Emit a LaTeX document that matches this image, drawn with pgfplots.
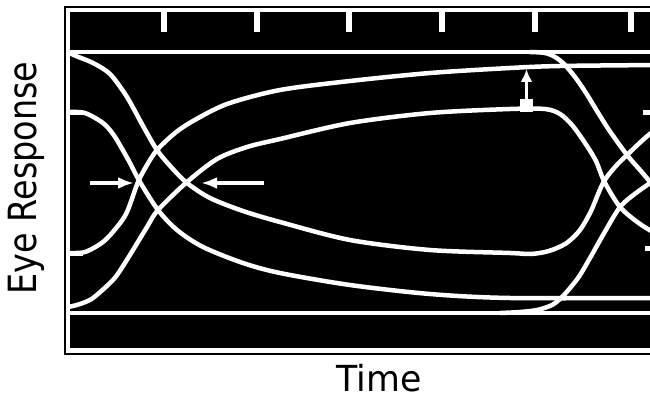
\documentclass[border=0pt]{standalone}
\usepackage{fontspec}
\setmainfont{DejaVu Sans}
\usepackage{graphicx}
\usepackage{pgfplots}
\pgfplotsset{compat=1.18}
\usetikzlibrary{arrows.meta}
\begin{document}
\begin{tikzpicture}[x=1bp,y=1bp]
\begin{axis}[
  at={(68.5bp,51bp)}, anchor=south west,
  scale only axis, width=591.5bp, height=339.5bp,
  xmin=68.5, xmax=660, ymin=-350, ymax=-10.5,
  axis background/.style={fill=black},
  axis line style={white, line width=3.5bp},
  xtick={164,257,349,442,535,631},
  xticklabels={{},{},{},{},{},{}},
  xtick pos=right,
  ytick=\empty,
  tick align=inside,
  major tick length=22bp,
  tick style={white, line width=6.5bp},
  xlabel={\scalebox{0.97}[1]{Time}},
  ylabel={\scalebox{0.86}[1]{Eye Response}},
  every axis x label/.style={at={(axis description cs:0.525,-0.1222)}, anchor=base, inner sep=0pt, text depth=0pt, font=\fontsize{36}{40}\selectfont},
  every axis y label/.style={at={(axis description cs:-0.0533,0.5066)}, anchor=base, rotate=90, font=\fontsize{39}{44}\selectfont},
  trace/.style={white, line width=4.5bp, smooth, tension=0.5, mark=none},
  rail/.style={white, line width=4bp, mark=none},
]
% rails
\addplot[rail] coordinates {(68.5,-52) (660,-52)};
\addplot[rail] coordinates {(68.5,-313) (660,-313)};
% A: top rail -> lower inner -> rising at right
\addplot[trace] coordinates {(68.5,-52.5) (76,-56) (93,-63) (110,-74) (127,-97) (143,-126) (157,-150) (172,-168) (187,-183) (210,-198) (243,-211) (280,-222) (350,-240) (430,-250) (510,-253) (530,-254) (545,-252) (557,-248) (568,-242) (580,-230) (591,-211) (603,-183) (615,-167) (627,-155) (645,-138) (660,-126)};
% E: level 253 -> upper inner
\addplot[trace] coordinates {(68.5,-253) (85,-252) (103,-242) (117,-227) (127,-212) (138,-182) (147,-165) (157,-150) (175,-133) (193,-121) (227,-104) (280,-90) (350,-81) (430,-73) (510,-68) (560,-66) (660,-65)};
% B: level 112 -> lower-lower
\addplot[trace] coordinates {(68.5,-112) (85,-113) (103,-123) (113,-134) (121,-147) (130,-163) (140,-182) (158,-210) (177,-230) (203,-247) (243,-263) (280,-273) (350,-285) (430,-294) (510,-298) (660,-298)};
% F: bottom-left -> middle -> falling at right
\addplot[trace] coordinates {(68.5,-307) (80,-304) (93,-298) (113,-280) (123,-266) (133,-250) (147,-227) (158,-210) (187,-182) (217,-159) (247,-147) (280,-139) (350,-123) (430,-113) (510,-109) (545,-109) (560,-114) (572,-125) (585,-143) (596,-161) (604,-181) (620,-207) (640,-224) (660,-236)};
% G: top rail falling at right
\addplot[trace] coordinates {(530,-52) (545,-53) (555,-57) (564,-64) (575,-77) (586,-93) (597,-111) (609,-130) (627,-155) (640,-170) (652,-184) (660,-192)};
% H: bottom rail rising at right
\addplot[trace] coordinates {(500,-313) (520,-312) (537,-310) (552,-305) (563,-296) (578,-278) (590,-258) (603,-235) (620,-207) (636,-193) (650,-183) (660,-175)};
% level markers
\addplot[white, line width=5bp, mark=none] coordinates {(68.5,-112.5) (83,-112.5)};
\addplot[white, line width=5bp, mark=none] coordinates {(68.5,-253) (83,-253)};
\addplot[white, line width=5bp, mark=none] coordinates {(643,-113) (660,-113)};
\addplot[white, line width=5bp, mark=none] coordinates {(645,-248) (660,-248)};
% arrows
\draw[white, line width=4bp, -{Latex[length=16bp,width=12bp]}] (axis cs:90,-183) -- (axis cs:134,-183);
\draw[white, line width=4bp, -{Latex[length=16bp,width=12bp]}] (axis cs:264,-183) -- (axis cs:201,-183);
\draw[white, line width=3.5bp, -{Latex[length=13bp,width=12bp]}] (axis cs:526.5,-101) -- (axis cs:526.5,-69);
\fill[white] (axis cs:520,-99) rectangle (axis cs:533,-112);
\end{axis}
\draw[black, line width=2bp] (64.5,47) rectangle (700,394);
\pgfresetboundingbox
\useasboundingbox (0,0) rectangle (650,401);
\end{tikzpicture}
\end{document}
